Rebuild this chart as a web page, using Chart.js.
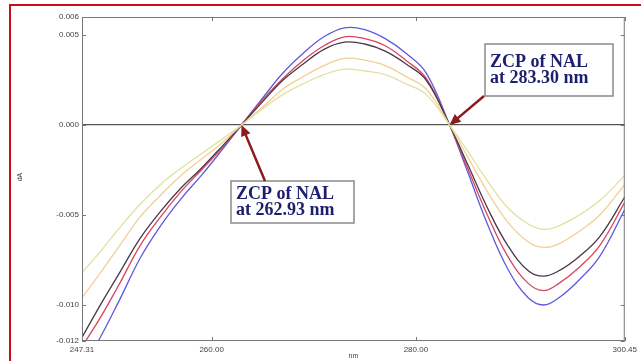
<!DOCTYPE html>
<html>
<head>
<meta charset="utf-8">
<script src="https://cdn.jsdelivr.net/npm/chart.js@4/dist/chart.umd.min.js"></script>
<style>
  html, body { margin: 0; padding: 0; background: #fff; }
  #wrap { width: 641px; height: 361px; position: relative; }
</style>
</head>
<body>
<div id="wrap"><canvas id="zcpChart"></canvas></div>
<script>
// wavelengths (nm) the curves were read at
const wavelengths = [247.31, 249, 251, 253, 255, 257, 259, 261, 262.93, 265, 267, 269, 271, 273,
                     275, 277, 279, 281, 283.30, 285, 287, 289, 291, 292.5, 294, 296, 298, 300.45];
// first derivative amplitudes, one array per concentration
const blueSeries = [-0.0135, -0.0119, -0.0097, -0.0074, -0.0056, -0.0041, -0.0028, -0.0014, 0, 0.0015, 0.0029, 0.0040, 0.0049, 0.0054,
                    0.0053, 0.0048, 0.0040, 0.0029, 0, -0.0025, -0.0055, -0.0080, -0.0096, -0.0100, -0.0096, -0.0086, -0.0073, -0.0047];
const redSeries = [-0.0123, -0.0108, -0.0088, -0.0067, -0.0051, -0.0037, -0.0025, -0.0013, 0, 0.0014, 0.0026, 0.0036, 0.0044, 0.0049,
                   0.0048, 0.0044, 0.0036, 0.0026, 0, -0.0023, -0.0050, -0.0073, -0.0088, -0.0092, -0.0088, -0.0079, -0.0067, -0.0043];
const darkSeries = [-0.0118, -0.0101, -0.0082, -0.0063, -0.0048, -0.0035, -0.0024, -0.0012, 0, 0.0013, 0.0025, 0.0034, 0.0042, 0.0046,
                    0.0045, 0.0041, 0.0034, 0.0025, 0, -0.0021, -0.0046, -0.0067, -0.0081, -0.0084, -0.0081, -0.0073, -0.0062, -0.0040];
const orangeSeries = [-0.0096, -0.0083, -0.0067, -0.0051, -0.0039, -0.0028, -0.0019, -0.0010, 0, 0.0010, 0.0020, 0.0027, 0.0033, 0.0037,
                      0.0036, 0.0033, 0.0027, 0.0020, 0, -0.0017, -0.0037, -0.0054, -0.0065, -0.0068, -0.0066, -0.0059, -0.0050, -0.0033];
const yellowSeries = [-0.0082, -0.0071, -0.0057, -0.0044, -0.0033, -0.0024, -0.0016, -0.0008, 0, 0.0009, 0.0017, 0.0023, 0.0028, 0.0031,
                      0.0030, 0.0028, 0.0023, 0.0017, 0, -0.0014, -0.0031, -0.0046, -0.0055, -0.0058, -0.0056, -0.0050, -0.0042, -0.0028];
const xTicks = [247.31, 260.00, 280.00, 300.45];
const yTicks = [-0.012, -0.010, -0.005, 0, 0.005, 0.006];
// zero crossing points that get labelled
const zcpPoints = [262.93, 283.30];

function pts(arr){
    return wavelengths.map((x, i) => ({x: x, y: arr[i]}));
}
function mkSet(arr, color){
    return {data: pts(arr), borderColor: color, borderWidth: 1.3, pointRadius: 0, tension: 0.4, fill: false};
}

/*frame, inward tick marks, red outer border and the two ZCP callouts*/
const extras = {
    id: 'extras',
    afterDatasetsDraw(chart){
        const c = chart.ctx, a = chart.chartArea;
        const xs = chart.scales.x, ys = chart.scales.y;
        c.save();
        c.strokeStyle = '#777';
        c.lineWidth = 1;
        c.strokeRect(a.left + 0.5, a.top + 0.5, a.right - a.left - 1, a.bottom - a.top - 1);
        c.beginPath();
        yTicks.forEach(v => {
            const y = Math.round(ys.getPixelForValue(v)) + 0.5;
            c.moveTo(a.left, y); c.lineTo(a.left + 4, y);
            c.moveTo(a.right, y); c.lineTo(a.right - 4, y);
        });
        xTicks.forEach(v => {
            const x = Math.round(xs.getPixelForValue(v)) + 0.5;
            c.moveTo(x, a.bottom); c.lineTo(x, a.bottom - 4);
            c.moveTo(x, a.top); c.lineTo(x, a.top + 4);
        });
        c.stroke();

        // red outer border of the figure
        c.strokeStyle = '#c8101a';
        c.lineWidth = 2;
        c.beginPath();
        c.moveTo(10, 361); c.lineTo(10, 5); c.lineTo(641, 5);
        c.stroke();

        // callout boxes
        const boxes = [
            {x: 231, y: 181, w: 123, h: 42, lines: ['ZCP of NAL', 'at 262.93 nm'], from: [265, 181], zcp: zcpPoints[0]},
            {x: 485, y: 44, w: 128, h: 52, lines: ['ZCP of NAL', 'at 283.30 nm'], from: [484, 96], zcp: zcpPoints[1]}
        ];
        boxes.forEach(b => {
            c.fillStyle = '#fff';
            c.fillRect(b.x, b.y, b.w, b.h);
            c.strokeStyle = '#8a8a8a';
            c.lineWidth = 1.5;
            c.strokeRect(b.x, b.y, b.w, b.h);
            c.fillStyle = '#1c1f6e';
            c.font = 'bold 18px "Liberation Serif", "DejaVu Serif", serif';
            c.textBaseline = 'middle';
            c.textAlign = 'left';
            const gap = 16;
            const y0 = b.y + b.h / 2 - gap / 2;
            c.fillText(b.lines[0], b.x + 5, y0, b.w - 14);
            c.fillText(b.lines[1], b.x + 5, y0 + gap, b.w - 12);

            // arrow to the zero crossing
            const tx = xs.getPixelForValue(b.zcp), ty = ys.getPixelForValue(0);
            const ang = Math.atan2(ty - b.from[1], tx - b.from[0]);
            c.strokeStyle = '#8e1b1b';
            c.fillStyle = '#8e1b1b';
            c.lineWidth = 2.5;
            c.beginPath();
            c.moveTo(b.from[0], b.from[1]);
            c.lineTo(tx - 8 * Math.cos(ang), ty - 8 * Math.sin(ang));
            c.stroke();
            c.beginPath();
            c.moveTo(tx, ty);
            c.lineTo(tx - 11 * Math.cos(ang) + 5 * Math.sin(ang), ty - 11 * Math.sin(ang) - 5 * Math.cos(ang));
            c.lineTo(tx - 11 * Math.cos(ang) - 5 * Math.sin(ang), ty - 11 * Math.sin(ang) + 5 * Math.cos(ang));
            c.closePath();
            c.fill();
        });

        // axis titles
        c.fillStyle = '#444';
        c.font = '7px "Liberation Sans", Arial, sans-serif';
        c.textAlign = 'center';
        c.textBaseline = 'middle';
        c.fillText('nm', (a.left + a.right) / 2, 356);
        c.translate(20, 177);
        c.rotate(-Math.PI / 2);
        c.fillText('dA', 0, 0);
        c.restore();
    }
};

ctx = document.getElementById("zcpChart").getContext("2d");
zcpChart = new Chart(ctx, {
    type: "line",
    data: {
        datasets: [
            mkSet(yellowSeries, '#dfe2a0'),
            mkSet(orangeSeries, '#f3cf95'),
            mkSet(darkSeries, '#4a3848'),
            mkSet(redSeries, '#d8455e'),
            mkSet(blueSeries, '#5b5bdc')
        ]
    },
    options: {
        responsive: true,
        maintainAspectRatio: false,
        animation: false,
        layout: {padding: {left: 0, top: 17, right: 16, bottom: 0}},
        scales: {
            x: {
                type: "linear",
                min: 247.31,
                max: 300.45,
                afterBuildTicks: s => { s.ticks = xTicks.map(v => ({value: v})); },
                afterFit: s => { s.height = 20; },
                grid: {display: false, drawTicks: false},
                border: {display: false},
                ticks: {
                    color: '#444',
                    font: {size: 8, family: '"Liberation Sans", Arial, sans-serif'},
                    padding: 4,
                    maxRotation: 0,
                    autoSkip: false,
                    callback: v => Number(v).toFixed(2)
                }
            },
            y: {
                min: -0.012,
                max: 0.006,
                afterBuildTicks: s => { s.ticks = yTicks.map(v => ({value: v})); },
                afterFit: s => { s.width = 82; },
                grid: {
                    drawTicks: false,
                    color: c => (c.tick && c.tick.value === 0) ? '#555' : 'rgba(0,0,0,0)',
                    lineWidth: 1.2
                },
                border: {display: false},
                ticks: {
                    color: '#444',
                    font: {size: 8, family: '"Liberation Sans", Arial, sans-serif'},
                    padding: 3,
                    autoSkip: false,
                    callback: v => Number(v).toFixed(3)
                }
            }
        },
        plugins: {
            legend: {display: false},
            tooltip: {enabled: false}
        }
    },
    plugins: [extras]
});
</script>
</body>
</html>
